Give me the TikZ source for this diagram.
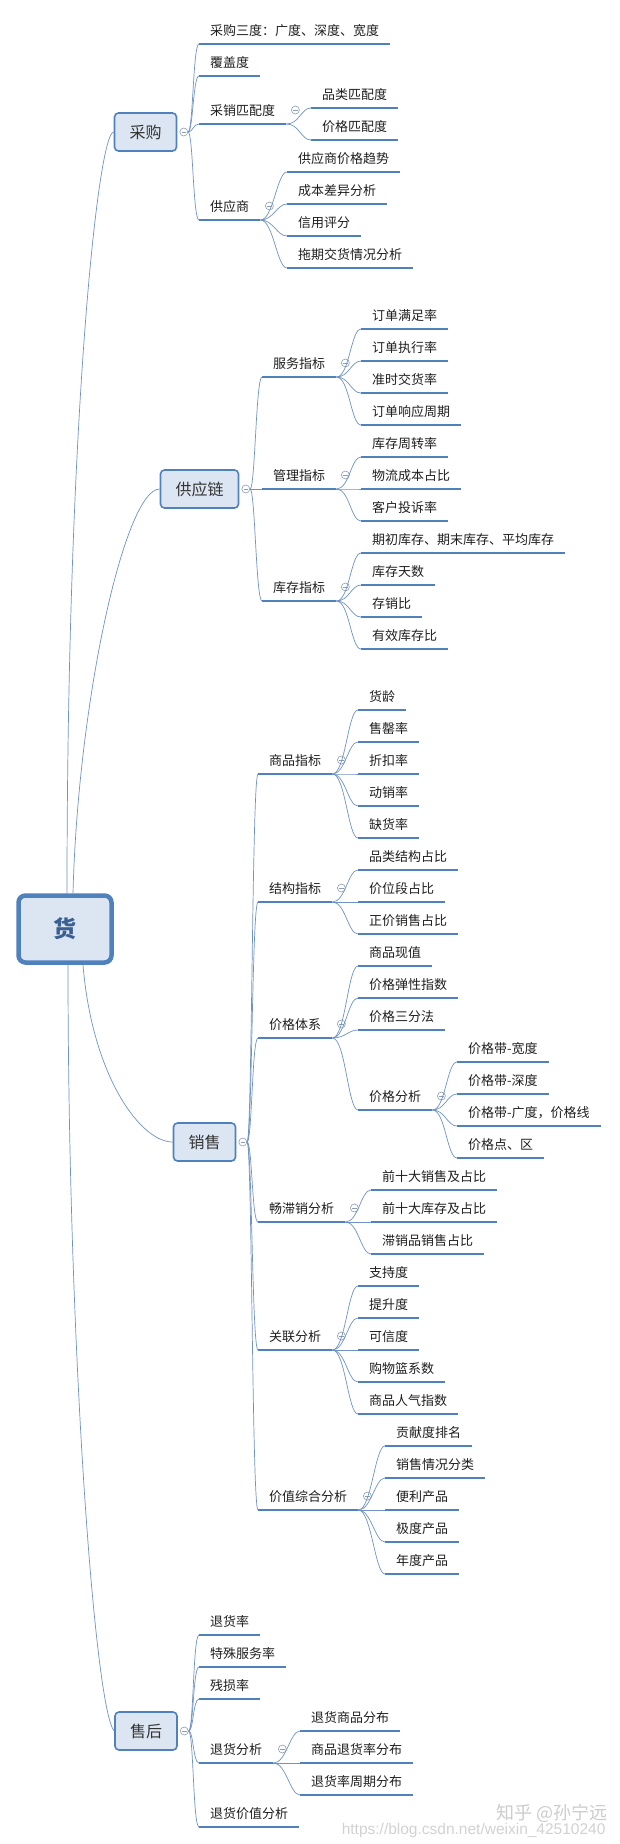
\documentclass[tikz,border=0pt]{standalone}
\usepackage{fontspec}
\setmainfont{Noto Sans CJK SC}
\newfontfamily\wmfont{Liberation Sans}
\usepackage{xcolor}
\usepackage{tikz}
\usetikzlibrary{positioning}

\definecolor{lineblue}{HTML}{4F81BD}
\definecolor{linkblue}{HTML}{6F93C4}
\definecolor{boxfill}{HTML}{DCE6F2}
\definecolor{togray}{HTML}{8C9DB5}
\definecolor{rootink}{HTML}{3A5F91}

\tikzset{
  root/.style={draw=lineblue, line width=4.5pt, fill=boxfill, rounded corners=7pt,
    minimum width=93pt, minimum height=67pt, text=rootink,
    font=\fontsize{23}{23}\selectfont\bfseries},
  branch/.style={draw=lineblue, line width=1.6pt, fill=boxfill, rounded corners=4pt,
    minimum height=38pt, inner xsep=15pt, text=black!80,
    font=\fontsize{16}{16}\selectfont},
  uline/.style={draw=lineblue, line width=2.6pt},
  leaf/.style={anchor=south west, inner xsep=11pt, inner ysep=4.5pt, text depth=4pt,
    text=black!88, font=\fontsize{13}{13}\selectfont,
    append after command={(\tikzlastnode.south west) edge[uline] (\tikzlastnode.south east)}},
  link/.style={draw=linkblue, line width=0.7pt},
  tog/.style={circle, draw=togray, fill=white, line width=0.6pt, inner sep=0pt, minimum size=8pt,
    path picture={\draw[togray, line width=0.6pt]
      ([xshift=-2.2pt]path picture bounding box.center) -- ([xshift=2.2pt]path picture bounding box.center);}}
}

\begin{document}
\begin{tikzpicture}[x=1pt, y=-1pt]
  \useasboundingbox[fill=white] (0,0) rectangle (619,1844);

  \node[root] (huo) at (65,929) {货};
  \node[branch] (cg) at (145.5,132) {采购};
  \node[branch] (gyl) at (199.5,489) {供应链};
  \node[branch] (xs) at (204.5,1142) {销售};
  \node[branch] (sh) at (146,1731) {售后};

  \draw[link] ([xshift=2pt]huo.north) .. controls (67,420) and (98,132) .. (cg.west);
  \draw[link] ([xshift=8pt]huo.north) .. controls (78,700) and (125,489) .. (gyl.west);
  \draw[link] ([xshift=18pt]huo.south) .. controls (92,1075) and (140,1142) .. (xs.west);
  \draw[link] ([xshift=3pt]huo.south) .. controls (68,1350) and (95,1710) .. (sh.west);

  % second level
  \foreach \p/\x/\lst in {
      cg/199/{44/采购三度：广度、深度、宽度,76/覆盖度,124/采销匹配度,220/供应商},
      gyl/262/{377/服务指标,489/管理指标,601/库存指标},
      xs/258/{774/商品指标,902/结构指标,1038/价格体系,1222/畅滞销分析,1350/关联分析,1510/价值综合分析},
      sh/199/{1635/退货率,1667/特殊服务率,1699/残损率,1763/退货分析,1827/退货价值分析}} {
    \node[tog] (\p-t) at ([xshift=6.5pt]\p.east) {};
    \foreach \y/\txt [count=\i] in \lst {
      \node[leaf] (\p\i) at (\x,\y) {\txt};
      \draw[link] (\p-t.east) .. controls +(5,0) and +(-6,0) .. (\p\i.south west);
    }
  }

  % third and fourth level
  \foreach \p/\x/\lst in {
      cg3/311/{108/品类匹配度,140/价格匹配度},
      cg4/287/{172/供应商价格趋势,204/成本差异分析,236/信用评分,268/拖期交货情况分析},
      gyl1/361/{329/订单满足率,361/订单执行率,393/准时交货率,425/订单响应周期},
      gyl2/361/{457/库存周转率,489/物流成本占比,521/客户投诉率},
      gyl3/361/{553/期初库存、期末库存、平均库存,585/库存天数,617/存销比,649/有效库存比},
      xs1/358/{710/货龄,742/售罄率,774/折扣率,806/动销率,838/缺货率},
      xs2/358/{870/品类结构占比,902/价位段占比,934/正价销售占比},
      xs3/358/{966/商品现值,998/价格弹性指数,1030/价格三分法,1110/价格分析},
      xs3-4/457/{1062/价格带-宽度,1094/价格带-深度,1126/价格带-广度，价格线,1158/价格点、区},
      xs4/371/{1190/前十大销售及占比,1222/前十大库存及占比,1254/滞销品销售占比},
      xs5/358/{1286/支持度,1318/提升度,1350/可信度,1382/购物篮系数,1414/商品人气指数},
      xs6/385/{1446/贡献度排名,1478/销售情况分类,1510/便利产品,1542/极度产品,1574/年度产品},
      sh4/300/{1731/退货商品分布,1763/商品退货率分布,1795/退货率周期分布}} {
    \node[tog] (\p-t) at ([shift={(9,-14)}]\p.south east) {};
    \foreach \y/\txt [count=\i] in \lst {
      \node[leaf] (\p-\i) at (\x,\y) {\txt};
      \draw[link] (\p.south east) .. controls +(13,0) and +(-10,0) .. (\p-\i.south west);
    }
  }

  \node[anchor=east, text=gray!40, font=\fontsize{18}{18}\selectfont] (wm1) at (611,1813) {知乎 @孙宁远};
  \node[anchor=east, text=gray!35, font=\wmfont\fontsize{15.5}{15.5}\selectfont] (wm2) at (609,1830) {https://blog.csdn.net/weixin\_42510240};
\end{tikzpicture}
\end{document}
